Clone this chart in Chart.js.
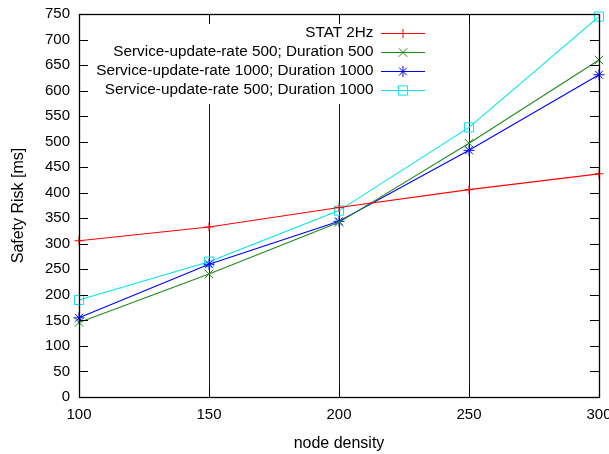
<!DOCTYPE html>
<html>
<head>
<meta charset="utf-8">
<script src="https://cdn.jsdelivr.net/npm/chart.js@4/dist/chart.umd.min.js"></script>
<style>
  html, body { margin: 0; padding: 0; background: #fff; }
  #wrap { width: 609px; height: 454px; }
</style>
</head>
<body>
<div id="wrap"><canvas id="c" width="609" height="454"></canvas></div>
<script>
// Node density on the x axis
const nodeDensity = [100, 150, 200, 250, 300];

// Safety risk [ms] per configuration
const stat2Hz       = [306, 333, 371, 406, 437];
const rate500dur500 = [146, 241, 342, 497, 660];
const rate1000dur1000 = [155, 260, 344, 483, 631];
const rate500dur1000 = [190, 265, 365, 528, 745];

const seriesLabels = [
  'STAT 2Hz',
  'Service-update-rate 500; Duration 500',
  'Service-update-rate 1000; Duration 1000',
  'Service-update-rate 500; Duration 1000'
];
const seriesValues = [stat2Hz, rate500dur500, rate1000dur1000, rate500dur1000];
const seriesColors = ['#ff0000', '#1f8a1f', '#0000ff', '#00e5ee'];
const seriesMarkers = ['cross', 'crossRot', 'star', 'rect'];
const markerRadius = [4.5, 6, 5.5, 6.5];

const xTicks = { min: 100, max: 300, step: 50 };
const yTicks = { min: 0, max: 750, step: 50 };

const FONT = "'Liberation Sans', Arial, sans-serif";

const datasets = seriesLabels.map((label, i) => ({
  label,
  data: nodeDensity.map((x, j) => ({ x, y: seriesValues[i][j] })),
  borderColor: seriesColors[i],
  backgroundColor: 'rgba(0,0,0,0)',
  pointBorderColor: seriesColors[i],
  pointBackgroundColor: 'rgba(0,0,0,0)',
  pointStyle: seriesMarkers[i],
  pointRadius: markerRadius[i],
  pointBorderWidth: 1,
  borderWidth: 1.1,
  tension: 0,
  fill: false,
  clip: false
}));

function marker(ctx, style, r, x, y, color) {
  const o = { pointStyle: style, radius: r, rotation: 0, borderWidth: 1 };
  ctx.save();
  ctx.strokeStyle = color;
  ctx.fillStyle = 'rgba(0,0,0,0)';
  ctx.lineWidth = 1;
  if (Chart.helpers && Chart.helpers.drawPoint) {
    Chart.helpers.drawPoint(ctx, o, x, y);
  } else {
    ctx.beginPath();
    const d = r * Math.SQRT1_2;
    if (style === 'cross' || style === 'star') {
      ctx.moveTo(x - r, y); ctx.lineTo(x + r, y);
      ctx.moveTo(x, y - r); ctx.lineTo(x, y + r);
    }
    if (style === 'crossRot' || style === 'star') {
      ctx.moveTo(x - d, y - d); ctx.lineTo(x + d, y + d);
      ctx.moveTo(x - d, y + d); ctx.lineTo(x + d, y - d);
    }
    if (style === 'rect') ctx.rect(x - d, y - d, 2 * d, 2 * d);
    ctx.stroke();
  }
  ctx.restore();
}

// Frame, inward tick marks and the key box
const framePlugin = {
  id: 'frame',
  afterDraw(chart) {
    const { ctx, chartArea: a, scales } = chart;
    const xs = scales.x, ys = scales.y;
    ctx.save();

    // key box
    ctx.fillStyle = '#fff';
    ctx.fillRect(94, 24, 337, 80);
    ctx.font = '15.3px ' + FONT;
    ctx.textAlign = 'right';
    ctx.textBaseline = 'middle';
    const rowY = [33, 52, 71, 90];
    seriesLabels.forEach((lab, i) => {
      const y = rowY[i];
      ctx.fillStyle = '#000';
      ctx.fillText(lab, 373.5, y);
      ctx.strokeStyle = seriesColors[i];
      ctx.lineWidth = 1.1;
      ctx.beginPath();
      ctx.moveTo(381, y + 0.5);
      ctx.lineTo(425, y + 0.5);
      ctx.stroke();
      marker(ctx, seriesMarkers[i], markerRadius[i], 403, y + 0.5, seriesColors[i]);
    });

    // inward ticks
    ctx.strokeStyle = '#000';
    ctx.lineWidth = 1;
    const tl = 9;
    ctx.beginPath();
    for (let v = yTicks.min; v <= yTicks.max; v += yTicks.step) {
      const py = Math.round(ys.getPixelForValue(v)) + 0.5;
      ctx.moveTo(a.left, py); ctx.lineTo(a.left + tl, py);
      ctx.moveTo(a.right, py); ctx.lineTo(a.right - tl, py);
    }
    for (let v = xTicks.min; v <= xTicks.max; v += xTicks.step) {
      const px = Math.round(xs.getPixelForValue(v)) + 0.5;
      ctx.moveTo(px, a.top); ctx.lineTo(px, a.top + tl);
      ctx.moveTo(px, a.bottom); ctx.lineTo(px, a.bottom - tl);
    }
    ctx.stroke();

    // frame
    ctx.lineWidth = 1.3;
    ctx.strokeRect(Math.round(a.left) + 0.5, Math.round(a.top) + 0.5,
                   Math.round(a.right - a.left), Math.round(a.bottom - a.top));
    ctx.restore();
  }
};

new Chart(document.getElementById('c'), {
  type: 'line',
  data: { datasets },
  plugins: [framePlugin],
  options: {
    responsive: false,
    animation: false,
    devicePixelRatio: 1,
    layout: { padding: { top: 14, right: 10, bottom: 0, left: 0 } },
    plugins: { legend: { display: false }, tooltip: { enabled: false } },
    scales: {
      x: {
        type: 'linear',
        min: xTicks.min, max: xTicks.max,
        ticks: { stepSize: xTicks.step, padding: 9, color: '#000',
                 font: { family: FONT, size: 15 }, maxRotation: 0 },
        grid: { color: '#1a1a1a', lineWidth: 1, drawTicks: false },
        border: { display: false },
        title: { display: true, text: 'node density', color: '#000',
                 font: { family: FONT, size: 16 }, padding: { top: 0, bottom: 1 } },
        afterFit(s) { s.height = 57; s.paddingLeft = 0; s.paddingRight = 0; }
      },
      y: {
        type: 'linear',
        min: yTicks.min, max: yTicks.max,
        ticks: { stepSize: yTicks.step, padding: 9, color: '#000',
                 font: { family: FONT, size: 15 } },
        grid: { display: false, drawTicks: false },
        border: { display: false },
        title: { display: true, text: 'Safety Risk [ms]', color: '#000',
                 font: { family: FONT, size: 16 }, padding: { top: 9, bottom: 0 } },
        afterFit(s) { s.width = 79; s.paddingTop = 0; s.paddingBottom = 0; }
      }
    }
  }
});
</script>
</body>
</html>
